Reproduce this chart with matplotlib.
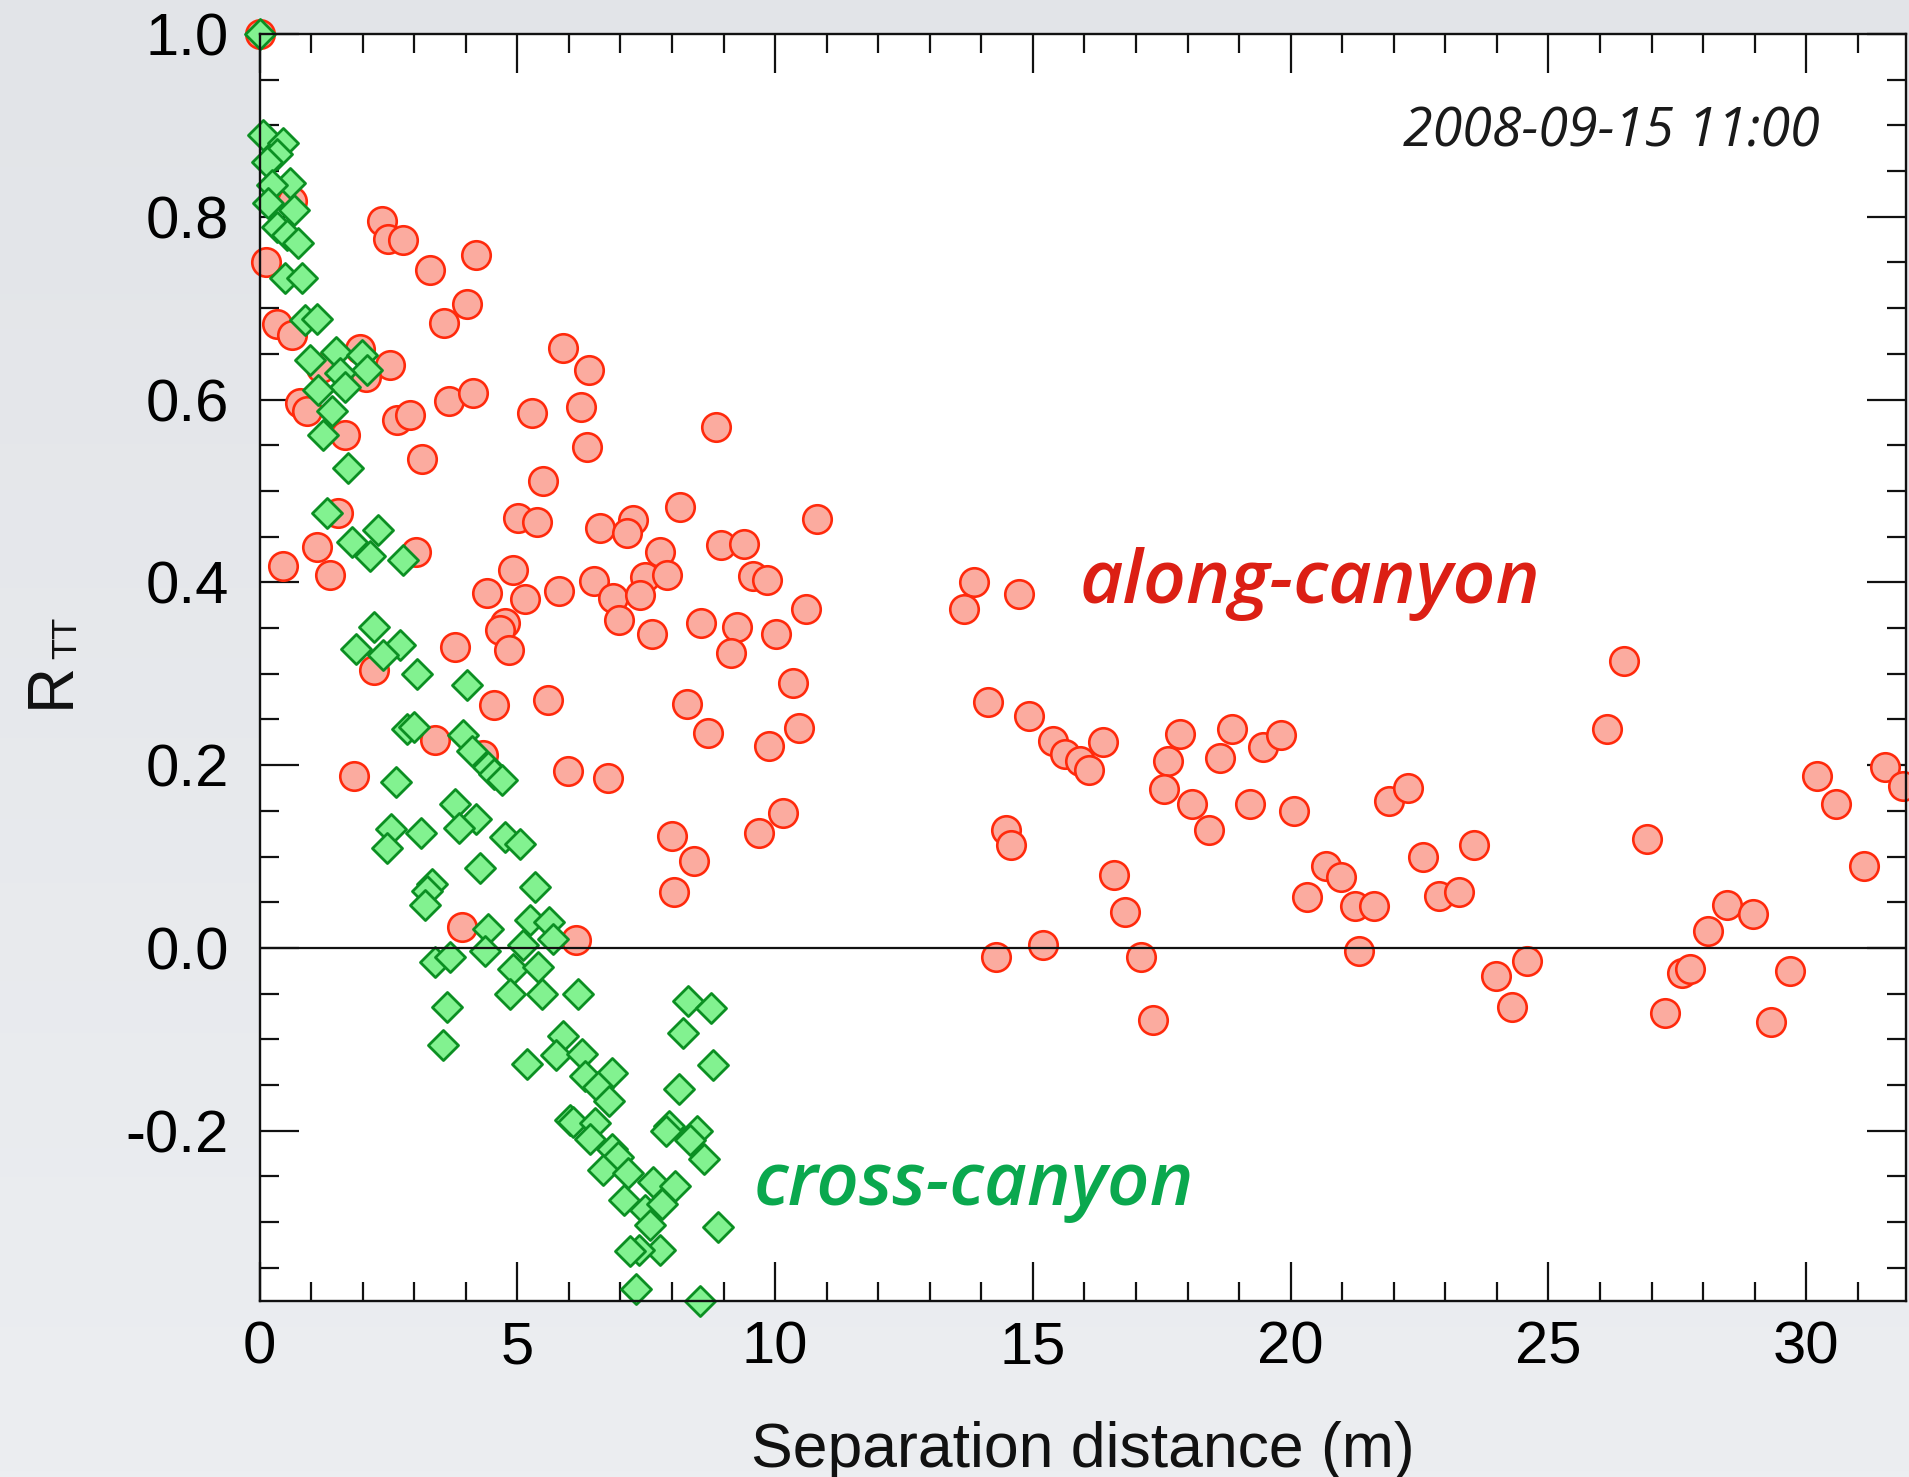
import numpy as np
import matplotlib
matplotlib.use("Agg")
import matplotlib.pyplot as plt
from matplotlib.ticker import MultipleLocator, FormatStrFormatter

# ---------------- data ----------------
# along-canyon pairs: separation distance (m) and temperature correlation
along_x = [
    0.00, 0.13, 0.33, 0.64, 0.64, 2.37, 2.50, 2.79, 3.31, 4.20, 4.03, 3.57,
    5.89, 2.53, 1.94, 2.07, 1.20, 0.78, 0.92, 2.66, 2.92, 3.68, 4.15, 5.28,
    1.66, 3.15, 6.39, 6.24, 6.35, 8.85, 5.50, 1.53, 3.03, 1.11, 0.46, 1.37,
    5.02, 5.38, 4.92, 4.41, 5.15, 5.80, 4.76, 4.67, 4.83, 2.22, 3.79, 4.55,
    5.60, 3.40, 4.34, 1.83, 6.60, 7.24, 7.13, 8.16, 10.81, 8.96, 9.40, 7.77,
    9.57, 9.84, 7.48, 7.90, 6.49, 6.86, 7.38, 10.60, 6.97, 7.62, 8.56, 9.27,
    9.14, 10.01, 10.34, 8.29, 8.69, 10.47, 9.89, 5.99, 6.75, 10.15, 9.69, 8.01,
    8.43, 8.04, 3.93, 6.14,
    13.86, 13.67, 14.73, 14.12, 14.93, 15.39, 15.63, 15.92, 16.08, 16.35,
    14.48, 14.57, 14.29, 15.19, 16.58, 16.79, 17.10, 17.32, 17.85, 17.63,
    17.54, 18.08, 18.41, 18.62, 18.87, 19.22, 19.47, 19.82, 20.07, 20.32,
    20.68, 20.97, 21.25, 21.62, 21.32, 21.91, 22.28, 22.57, 22.87, 23.26,
    23.55, 23.99, 24.29, 24.59, 26.13, 26.46, 26.92, 27.25, 27.59, 27.75,
    28.10, 28.46, 28.96, 29.31, 29.68, 30.21, 30.58, 31.12, 31.52, 31.87,
]
along_r = [
    1.000, 0.750, 0.683, 0.671, 0.817, 0.795, 0.776, 0.775, 0.742, 0.758, 0.705, 0.684,
    0.656, 0.638, 0.655, 0.625, 0.634, 0.596, 0.587, 0.578, 0.583, 0.598, 0.607, 0.585,
    0.561, 0.535, 0.632, 0.592, 0.548, 0.570, 0.511, 0.476, 0.433, 0.439, 0.418, 0.408,
    0.470, 0.466, 0.414, 0.388, 0.382, 0.390, 0.355, 0.348, 0.326, 0.304, 0.329, 0.266,
    0.271, 0.227, 0.211, 0.188, 0.459, 0.468, 0.454, 0.482, 0.469, 0.441, 0.442, 0.433,
    0.407, 0.403, 0.406, 0.408, 0.402, 0.383, 0.386, 0.371, 0.359, 0.343, 0.356, 0.351,
    0.323, 0.343, 0.290, 0.267, 0.235, 0.241, 0.221, 0.194, 0.186, 0.148, 0.126, 0.123,
    0.095, 0.061, 0.023, 0.009,
    0.400, 0.371, 0.387, 0.269, 0.254, 0.226, 0.212, 0.205, 0.195, 0.225,
    0.129, 0.113, -0.010, 0.003, 0.080, 0.039, -0.010, -0.079, 0.234, 0.204,
    0.174, 0.158, 0.129, 0.208, 0.240, 0.158, 0.220, 0.233, 0.150, 0.056,
    0.090, 0.078, 0.046, 0.046, -0.003, 0.161, 0.175, 0.099, 0.057, 0.061,
    0.113, -0.031, -0.065, -0.014, 0.240, 0.314, 0.119, -0.071, -0.027, -0.023,
    0.019, 0.047, 0.037, -0.081, -0.025, 0.188, 0.157, 0.090, 0.198, 0.177,
]

# cross-canyon pairs
cross_x = [
    0.00, 0.06, 0.46, 0.33, 0.14, 0.59, 0.24, 0.17, 0.66, 0.33, 0.53, 0.75,
    0.49, 0.82, 0.88, 1.11, 0.98, 1.48, 1.98, 2.08, 1.56, 1.66, 1.14, 1.40,
    1.24, 1.72, 1.30, 2.30, 1.79, 2.14, 2.79, 2.22, 1.88, 2.72, 2.39, 3.05,
    4.03, 2.86, 2.99, 3.95, 4.12, 4.44, 4.55, 4.70, 2.64, 3.79, 4.20, 3.86,
    2.56, 3.13, 2.47, 4.76, 5.05, 4.28, 3.34, 3.25, 3.21, 5.34, 4.44, 4.37,
    3.40, 3.69, 3.63, 3.55, 5.25, 5.62, 5.70, 5.12, 4.92, 5.41, 4.86, 5.47,
    6.18, 5.18, 5.89, 5.76, 6.25, 6.31, 6.83, 6.57, 6.77, 6.02, 6.09, 6.51,
    6.41, 6.83, 6.96, 6.67, 7.14, 7.64, 8.06, 7.07, 7.48, 7.80, 7.57, 7.76,
    7.37, 7.18, 7.31, 8.55, 8.31, 8.75, 8.22, 8.79, 8.13, 7.94, 7.88, 8.48,
    8.35, 8.62, 8.89,
]
cross_r = [
    1.000, 0.889, 0.881, 0.869, 0.860, 0.837, 0.835, 0.815, 0.807, 0.789, 0.780, 0.771,
    0.733, 0.733, 0.687, 0.688, 0.643, 0.652, 0.649, 0.632, 0.629, 0.614, 0.610, 0.587,
    0.561, 0.525, 0.476, 0.457, 0.444, 0.429, 0.424, 0.351, 0.327, 0.331, 0.320, 0.300,
    0.288, 0.240, 0.242, 0.233, 0.215, 0.198, 0.190, 0.184, 0.182, 0.158, 0.141, 0.131,
    0.130, 0.126, 0.109, 0.121, 0.114, 0.087, 0.070, 0.062, 0.047, 0.067, 0.021, -0.003,
    -0.015, -0.010, -0.065, -0.106, 0.031, 0.028, 0.010, 0.003, -0.023, -0.021, -0.050, -0.050,
    -0.050, -0.127, -0.096, -0.117, -0.116, -0.140, -0.137, -0.152, -0.168, -0.188, -0.190, -0.192,
    -0.209, -0.220, -0.229, -0.243, -0.246, -0.256, -0.261, -0.276, -0.287, -0.280, -0.303, -0.331,
    -0.331, -0.332, -0.373, -0.386, -0.058, -0.066, -0.093, -0.128, -0.154, -0.195, -0.200, -0.200,
    -0.210, -0.231, -0.305,
]

x_range = (0.0, 31.93)
r_range = (-0.386, 1.0)
x_ticks = [0, 5, 10, 15, 20, 25, 30]
r_ticks = [-0.2, 0.0, 0.2, 0.4, 0.6, 0.8, 1.0]

# ---------------- figure ----------------
W, H = 1909, 1477
plt.rcParams["axes.unicode_minus"] = False
sans = ["Liberation Sans", "DejaVu Sans"]
plt.rcParams["font.family"] = sans

fig = plt.figure(figsize=(W / 100, H / 100), dpi=100)

# soft grey slide background
bg = fig.add_axes([0, 0, 1, 1], zorder=0)
grad = np.linspace(0, 1, 256)[:, None]
top_c = np.array([226, 228, 232]) / 255.0
bot_c = np.array([236, 238, 241]) / 255.0
img = top_c[None, None, :] * (1 - grad[:, :, None]) + bot_c[None, None, :] * grad[:, :, None]
bg.imshow(img, aspect="auto", extent=[0, 1, 0, 1], origin="upper")
bg.set_axis_off()

ax = fig.add_axes([259.5 / W, (H - 1300.7) / H, 1646.3 / W, 1266.7 / H], zorder=1)
ax.set_facecolor("white")

ax.scatter(along_x, along_r, s=420, marker="o", facecolor="#fbab9f",
           edgecolor="#ff2a0c", linewidths=1.9, zorder=3, clip_on=False)
ax.scatter(cross_x, cross_r, s=235, marker="D", facecolor="#82f290",
           edgecolor="#0b8f22", linewidths=2.0, zorder=4, clip_on=False)
ax.axhline(0.0, color="#111111", lw=1.6, zorder=5)

ax.set_xlim(*x_range)
ax.set_ylim(*r_range)
ax.xaxis.set_major_locator(MultipleLocator(5))
ax.xaxis.set_minor_locator(MultipleLocator(1))
ax.yaxis.set_major_locator(MultipleLocator(0.2))
ax.yaxis.set_minor_locator(MultipleLocator(0.05))
ax.set_xticks(x_ticks)
ax.set_yticks(r_ticks)
ax.yaxis.set_major_formatter(FormatStrFormatter("%.1f"))

for sp in ax.spines.values():
    sp.set_linewidth(1.7)
    sp.set_color("#111111")
    sp.set_zorder(6)

ax.tick_params(which="both", direction="in", top=True, right=True,
               color="#111111", width=1.6, labelsize=43)
ax.tick_params(which="major", length=28)
ax.tick_params(which="minor", length=14)
ax.tick_params(axis="x", which="major", pad=14)
ax.tick_params(axis="y", which="major", pad=22)

# annotations
ax.text(15.90, 0.377, "along-canyon", family=["Open Sans", "DejaVu Sans"],
        style="italic", weight="semibold", size=54, color="#dc1f14",
        ha="left", va="baseline", zorder=7)
ax.text(9.58, -0.2816, "cross-canyon", family=["Open Sans", "DejaVu Sans"],
        style="italic", weight="semibold", size=53.5, color="#0aa84e",
        ha="left", va="baseline", zorder=7)
ax.text(30.26, 0.877, "2008-09-15 11:00", family=["Open Sans", "DejaVu Sans"],
        style="italic", size=38.7, color="#1a1a1a",
        ha="right", va="baseline", zorder=7)

# axis titles
fig.text(1082.7 / W, (H - 1467.0) / H, "Separation distance (m)", size=45,
         ha="center", va="baseline", color="#111111")
fig.text(69 / W, (H - 708) / H, "R", size=46, rotation=90, rotation_mode="anchor",
         ha="left", va="baseline", color="#111111")
fig.text(76 / W, (H - 659) / H, "TT", size=25, rotation=90, rotation_mode="anchor",
         ha="left", va="baseline", color="#111111")

fig.savefig("out.png", dpi=100)
